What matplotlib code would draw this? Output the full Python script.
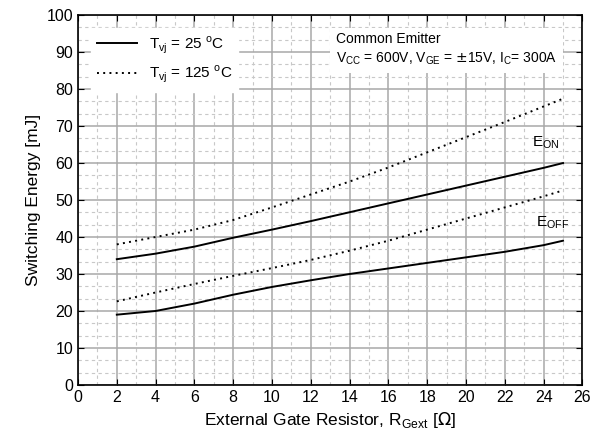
import matplotlib
matplotlib.use("Agg")
import matplotlib.pyplot as plt
from matplotlib.ticker import MultipleLocator

plt.rcParams['font.family'] = ['Liberation Sans', 'DejaVu Sans']

# gate resistance [ohm]
rg = [2, 4, 6, 8, 10, 12, 14, 16, 18, 20, 22, 24, 25]

# switching energy [mJ]
eon_25 = [34.0, 35.5, 37.4, 39.8, 42.0, 44.3, 46.7, 49.1, 51.5, 53.9, 56.3, 58.7, 60.0]
eon_125 = [38.0, 40.0, 42.0, 44.6, 48.0, 51.5, 55.0, 58.8, 62.9, 67.0, 71.1, 75.3, 77.4]
eoff_25 = [19.0, 20.0, 22.0, 24.4, 26.5, 28.3, 30.0, 31.5, 33.0, 34.5, 36.0, 37.8, 39.0]
eoff_125 = [22.6, 25.0, 27.3, 29.5, 31.6, 33.8, 36.3, 39.0, 42.0, 45.0, 48.0, 51.0, 52.6]

fig = plt.figure(figsize=(5.91, 4.44), dpi=100)
ax = fig.add_axes([0.132, 0.133, 0.8535, 0.833])

l25, = ax.plot(rg, eon_25, color="black", lw=1.4, label=r"T$_{\mathregular{vj}}$ = 25 $^{\mathregular{o}}$C")
l125, = ax.plot(rg, eon_125, color="black", lw=1.4, ls=(0, (1, 2.2)), label=r"T$_{\mathregular{vj}}$ = 125 $^{\mathregular{o}}$C")
ax.plot(rg, eoff_25, color="black", lw=1.4)
ax.plot(rg, eoff_125, color="black", lw=1.4, ls=(0, (1, 2.2)))

ax.set_xlim(0, 26)
ax.set_ylim(0, 100)
ax.xaxis.set_major_locator(MultipleLocator(2))
ax.xaxis.set_minor_locator(MultipleLocator(1))
ax.yaxis.set_major_locator(MultipleLocator(10))
ax.yaxis.set_minor_locator(MultipleLocator(10 / 3))
ax.grid(which="major", color="#a8a8a8", lw=1.1, ls="-")
ax.grid(which="minor", color="#c8c8c8", lw=0.8, ls=(0, (3, 3)))
ax.set_axisbelow(True)
ax.tick_params(which="both", direction="in", labelsize=11.5, length=4, width=0.8,
               top=True, right=True)
ax.tick_params(which="minor", length=0)
for s in ax.spines.values():
    s.set_linewidth(1.2)

ax.set_xlabel(r"External Gate Resistor, R$_{\mathregular{Gext}}$ [$\Omega$]", fontsize=12.5)
ax.set_ylabel("Switching Energy [mJ]", fontsize=12.5)

ax.text(23.4, 64.5, r"E$_{\mathregular{ON}}$", fontsize=11)
ax.text(23.6, 43.0, r"E$_{\mathregular{OFF}}$", fontsize=11)

ax.text(13.3, 95.3, "Common Emitter\n"
        r"V$_{\mathregular{CC}}$ = 600V, V$_{\mathregular{GE}}$ = $\pm$15V, I$_{\mathregular{C}}$= 300A",
        fontsize=10, va="top", ha="left", linespacing=1.35,
        bbox=dict(facecolor="white", edgecolor="none", pad=4))

leg = ax.legend(handles=[l25, l125], loc="upper left", bbox_to_anchor=(0.01, 0.985),
                fontsize=11, frameon=True, fancybox=False, framealpha=1,
                edgecolor="white", handlelength=2.6, borderpad=0.4, labelspacing=0.55)

fig.savefig("out.png", dpi=100)
